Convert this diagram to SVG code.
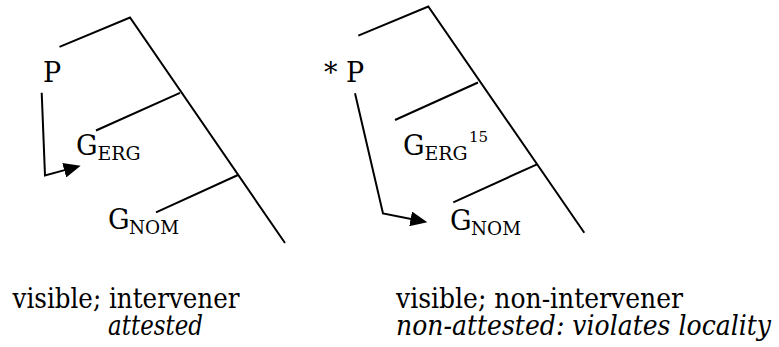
<svg xmlns="http://www.w3.org/2000/svg" width="779" height="347" viewBox="0 0 779 347">
<style>
  .ln { fill: none; stroke: #000; stroke-width: 2; stroke-linecap: butt; stroke-linejoin: miter; }
  text { font-family: 'DejaVu Serif', 'Liberation Serif', serif; fill: #000; }
  .lbl { font-size: 27px; }
  .sub { font-size: 19px; }
  .sup { font-size: 15px; }
  .cap { font-size: 28px; }
  .it { font-style: italic; }
</style>
<defs>
  <marker id="ah" markerUnits="userSpaceOnUse" markerWidth="17" markerHeight="15" viewBox="0 0 17 15" refX="7" refY="7.5" orient="auto">
    <path d="M0,0 L17,7.5 L0,15 z" fill="#000"/>
  </marker>
</defs>

<g id="tree-left">
  <path class="ln" d="M59.5,46.8 L130,17.5 L285,243"/>
  <path class="ln" d="M180,92.8 L96,130.5"/>
  <path class="ln" d="M238,175 L156,212.3"/>
</g>
<g id="tree-right">
  <path class="ln" d="M358.3,35.7 L428.3,6.5 L584.3,232.7"/>
  <path class="ln" d="M478,82.5 L395,120"/>
  <path class="ln" d="M537,164.3 L453.3,202.3"/>
</g>

<g id="node-P-left"><text class="lbl" x="43" y="82">P</text></g>
<g id="node-GERG-left"><text class="lbl" x="76" y="155">G<tspan class="sub" x="97.5" y="160" textLength="43" lengthAdjust="spacingAndGlyphs">ERG</tspan></text></g>
<g id="node-GNOM-left"><text class="lbl" x="108" y="229">G<tspan class="sub" x="129" y="234" textLength="50" lengthAdjust="spacingAndGlyphs">NOM</tspan></text></g>

<g id="node-P-right"><text class="lbl" x="324" y="82">* P</text></g>
<g id="node-GERG-right"><text class="lbl" x="403" y="155">G<tspan class="sub" x="424.5" y="160" textLength="43" lengthAdjust="spacingAndGlyphs">ERG</tspan><tspan class="sup" x="469" y="142">15</tspan></text></g>
<g id="node-GNOM-right"><text class="lbl" x="450" y="230">G<tspan class="sub" x="471" y="235" textLength="50" lengthAdjust="spacingAndGlyphs">NOM</tspan></text></g>

<g id="connectors">
  <path class="ln" d="M41.7,92.7 L45,175.5 L71,168.4" marker-end="url(#ah)"/>
  <path class="ln" d="M355,93.3 L383,213.5 L417.5,220.3" marker-end="url(#ah)"/>
</g>

<g id="captions">
  <text class="cap" x="12.5" y="308" textLength="227" lengthAdjust="spacingAndGlyphs">visible; intervener</text>
  <text class="cap it" x="108" y="335" textLength="95" lengthAdjust="spacingAndGlyphs">attested</text>
  <text class="cap" x="396" y="308" textLength="287" lengthAdjust="spacingAndGlyphs">visible; non-intervener</text>
  <text class="cap it" x="396" y="335" textLength="375" lengthAdjust="spacingAndGlyphs">non-attested: violates locality</text>
</g>
</svg>
